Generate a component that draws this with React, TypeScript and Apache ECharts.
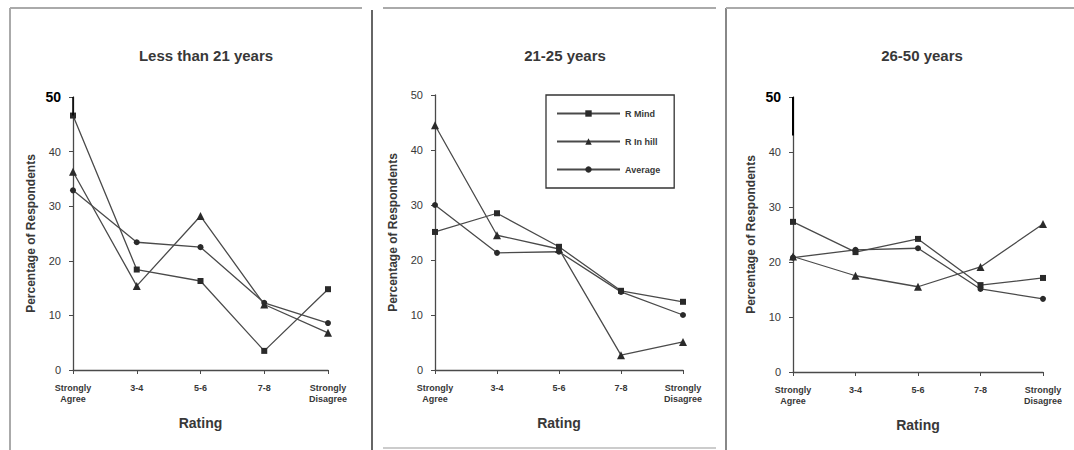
import React, { useEffect, useRef } from "react";
import * as echarts from "echarts";

const categories = ["Strongly\nAgree", "3-4", "5-6", "7-8", "Strongly\nDisagree"];
const panelTitles = ["Less than 21 years", "21-25 years", "26-50 years"];
const seriesNames = ["R Mind", "R In hill", "Average"];

// Panel 1: Less than 21 years
const p1Mind = [46.6, 18.4, 16.3, 3.5, 14.8];
const p1Hill = [36.3, 15.4, 28.2, 12.0, 6.8];
const p1Avg = [32.9, 23.4, 22.5, 12.3, 8.6];
// Panel 2: 21-25 years
const p2Mind = [25.1, 28.5, 22.4, 14.4, 12.4];
const p2Hill = [44.5, 24.5, 22.0, 2.7, 5.1];
const p2Avg = [30.0, 21.3, 21.5, 14.2, 10.0];
// Panel 3: 26-50 years
const p3Mind = [27.3, 21.8, 24.2, 15.8, 17.1];
const p3Hill = [21.0, 17.5, 15.5, 19.1, 26.9];
const p3Avg = [20.8, 22.2, 22.5, 15.1, 13.3];

const panels = [
  [p1Mind, p1Hill, p1Avg],
  [p2Mind, p2Hill, p2Avg],
  [p3Mind, p3Hill, p3Avg],
];

const symbols = ["rect", "triangle", "circle"];
const boldFifty = [true, false, true];

export default function App() {
  const ref = useRef<HTMLDivElement>(null);
  useEffect(() => {
    if (!ref.current) return;
    const chart = echarts.init(ref.current, null, { renderer: "svg" });
    const grids = [
      { left: 73, top: 97, width: 255, height: 273 },
      { left: 435, top: 95, width: 248, height: 275 },
      { left: 793, top: 97, width: 250, height: 275 },
    ];
    const titleX = [201, 560, 917];
    const textColor = "#383838";
    const lineColor = "#4a4a4a";
    const font = "Liberation Sans";

    const series: any[] = [];
    panels.forEach((p, gi) => {
      p.forEach((vals, si) => {
        const s: any = {
          name: seriesNames[si],
          type: "line",
          xAxisIndex: gi,
          yAxisIndex: gi,
          data: vals,
          symbol: symbols[si],
          symbolSize: si === 1 ? 8 : 6,
          lineStyle: { color: lineColor, width: 1.3 },
          itemStyle: { color: "#2a2a2a" },
          z: 3,
        };
        if (gi === 2 && si === 0) {
          s.markLine = {
            silent: true,
            symbol: "none",
            label: { show: false },
            lineStyle: { color: "#000", width: 2, type: "solid" },
            data: [[{ coord: [0, 50] }, { coord: [0, 43] }]],
          };
        }
        if (gi === 0 && si === 0) {
          s.markLine = {
            silent: true,
            symbol: ["none", "none"],
            label: { show: false },
            lineStyle: { color: "#000", width: 1.5, type: "solid" },
            data: [[{ coord: [0, 50] }, { coord: [0, 46.6] }]],
          };
        }
        series.push(s);
      });
    });

    chart.setOption({
      animation: false,
      backgroundColor: "#fff",
      title: panelTitles.map((t, i) => ({
        text: t,
        left: titleX[i],
        top: 43,
        textAlign: "center",
        textStyle: { fontFamily: font, fontSize: 15, fontWeight: "bold", color: textColor },
      })),
      legend: {
        data: seriesNames,
        orient: "vertical",
        left: 546,
        top: 95,
        itemWidth: 63,
        itemHeight: 8,
        itemGap: 19,
        padding: [14, 14, 14, 10],
        borderColor: "#333",
        borderWidth: 1.3,
        textStyle: { fontFamily: font, fontSize: 9, fontWeight: "bold", color: textColor },
      },
      grid: grids,
      xAxis: grids.map((_, i) => ({
        type: "category",
        gridIndex: i,
        data: categories,
        boundaryGap: false,
        name: "Rating",
        nameLocation: "middle",
        nameGap: 46,
        nameTextStyle: { fontFamily: font, fontSize: 14, fontWeight: "bold", color: textColor },
        axisLine: { lineStyle: { color: lineColor, width: 1.3 } },
        axisTick: { show: true, alignWithLabel: true, length: 4, lineStyle: { color: lineColor } },
        axisLabel: {
          interval: 0,
          fontFamily: font,
          fontSize: 9,
          fontWeight: "bold",
          lineHeight: 11,
          color: textColor,
          margin: 12,
        },
        splitLine: { show: false },
      })),
      yAxis: grids.map((_, i) => ({
        type: "value",
        gridIndex: i,
        min: 0,
        max: 50,
        interval: 10,
        name: "Percentage of Respondents",
        nameLocation: "middle",
        nameGap: 36,
        nameTextStyle: { fontFamily: font, fontSize: 12, fontWeight: "bold", color: textColor },
        axisLine: { show: true, lineStyle: { color: lineColor, width: 1.3 } },
        axisTick: { show: true, length: 4, lineStyle: { color: lineColor } },
        splitLine: { show: false },
        axisLabel: {
          fontFamily: font,
          fontSize: 11,
          color: textColor,
          margin: 12,
          formatter: (v: number) => (v === 50 && boldFifty[i] ? "{b|" + v + "}" : String(v)),
          rich: { b: { fontFamily: font, fontSize: 14, fontWeight: "bold", color: "#000" } },
        },
      })),
      graphic: [
        { type: "line", shape: { x1: 10, y1: 8, x2: 10, y2: 450 }, style: { stroke: "#aaa", lineWidth: 2 } },
        { type: "line", shape: { x1: 10, y1: 8, x2: 362, y2: 8 }, style: { stroke: "#aaa", lineWidth: 2 } },
        { type: "line", shape: { x1: 372, y1: 10, x2: 372, y2: 450 }, style: { stroke: "#666", lineWidth: 2 } },
        { type: "line", shape: { x1: 383, y1: 8, x2: 716, y2: 8 }, style: { stroke: "#aaa", lineWidth: 2 } },
        { type: "line", shape: { x1: 726, y1: 8, x2: 726, y2: 450 }, style: { stroke: "#888", lineWidth: 2 } },
        { type: "line", shape: { x1: 726, y1: 8, x2: 1074, y2: 8 }, style: { stroke: "#aaa", lineWidth: 2 } },
        { type: "line", shape: { x1: 383, y1: 448, x2: 716, y2: 448 }, style: { stroke: "#ccc", lineWidth: 2 } },
      ],
      series,
    });
    return () => chart.dispose();
  }, []);
  return <div ref={ref} style={{ position: "fixed", left: 0, top: 0, width: 1074, height: 450 }} />;
}
